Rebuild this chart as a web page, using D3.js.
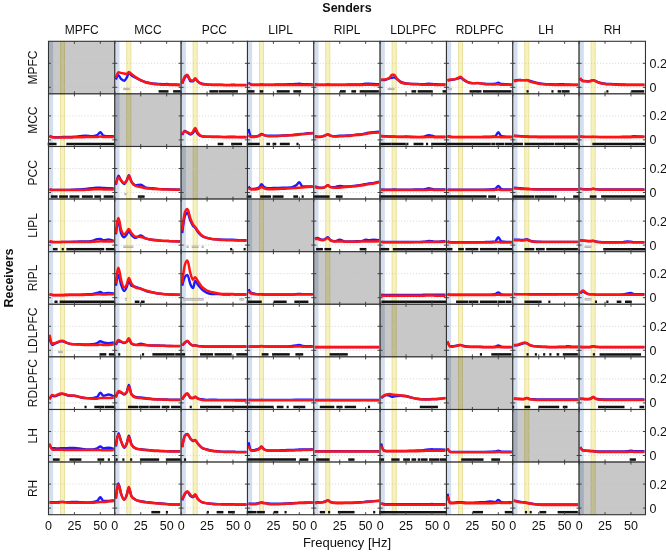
<!DOCTYPE html>
<html>
<head>
<meta charset="utf-8">
<script src="https://cdn.jsdelivr.net/npm/d3@7/dist/d3.min.js"></script>
<style>
  body { margin: 0; background: #fff; }
  text { font-family: "Liberation Sans", Arial, sans-serif; fill: #111; }
</style>
</head>
<body>
<script>
// senders = columns, receivers = rows
var senders = ["MPFC", "MCC", "PCC", "LIPL", "RIPL", "LDLPFC", "RDLPFC", "LH", "RH"];
var receivers = ["MPFC", "MCC", "PCC", "LIPL", "RIPL", "LDLPFC", "RDLPFC", "LH", "RH"];
var freqs = [1, 3.5, 6, 9, 11.5, 13.5, 16, 20, 25, 30, 36, 42, 47, 50, 53, 58, 63];
var xTicks = [0, 25, 50];
var yTicks = [0, 0.2];
var deltaBand = [0.6, 4.5];
var alphaBand = [11.5, 15.5];

// one entry per sender, null on the diagonal
var blue_MPFC = [
  null,
  [0.065,0.10,0.07,0.055,0.08,0.12,0.10,0.08,0.058,0.042,0.032,0.027,0.026,0.027,0.024,0.024,0.022],
  [0.03,0.08,0.095,0.05,0.05,0.07,0.048,0.03,0.024,0.022,0.022,0.02,0.02,0.022,0.02,0.02,0.02],
  [0.04,0.024,0.022,0.022,0.022,0.024,0.022,0.022,0.022,0.024,0.024,0.026,0.028,0.03,0.026,0.025,0.024],
  [0.025,0.022,0.022,0.022,0.022,0.024,0.022,0.022,0.022,0.022,0.024,0.024,0.026,0.03,0.03,0.028,0.025],
  [0.06,0.06,0.065,0.075,0.08,0.083,0.07,0.045,0.032,0.028,0.027,0.025,0.03,0.027,0.025,0.024,0.024],
  [0.055,0.06,0.063,0.068,0.075,0.08,0.065,0.045,0.035,0.035,0.03,0.028,0.03,0.038,0.027,0.025,0.024],
  [0.055,0.06,0.062,0.06,0.06,0.06,0.055,0.045,0.035,0.028,0.025,0.024,0.026,0.024,0.023,0.022,0.022],
  [0.07,0.055,0.052,0.05,0.055,0.06,0.052,0.038,0.03,0.027,0.025,0.023,0.022,0.022,0.022,0.022,0.022]
];
var red_MPFC = [
  null,
  [0.08,0.125,0.12,0.115,0.11,0.128,0.11,0.085,0.06,0.04,0.03,0.025,0.022,0.022,0.02,0.02,0.018],
  [0.035,0.09,0.105,0.06,0.055,0.075,0.05,0.028,0.022,0.02,0.019,0.018,0.018,0.018,0.018,0.017,0.017],
  [0.035,0.022,0.02,0.02,0.02,0.02,0.02,0.02,0.02,0.02,0.02,0.02,0.02,0.02,0.02,0.02,0.02],
  [0.022,0.02,0.02,0.02,0.02,0.02,0.02,0.02,0.02,0.02,0.02,0.02,0.02,0.022,0.022,0.02,0.02],
  [0.064,0.065,0.068,0.08,0.105,0.105,0.075,0.04,0.03,0.028,0.025,0.022,0.022,0.022,0.02,0.02,0.02],
  [0.06,0.065,0.065,0.07,0.08,0.088,0.07,0.045,0.033,0.035,0.028,0.025,0.024,0.025,0.022,0.022,0.02],
  [0.05,0.055,0.058,0.058,0.058,0.06,0.05,0.04,0.03,0.025,0.022,0.02,0.02,0.02,0.02,0.02,0.02],
  [0.08,0.05,0.05,0.048,0.052,0.058,0.05,0.035,0.028,0.025,0.022,0.02,0.02,0.02,0.02,0.02,0.02]
];
var blue_MCC = [
  [0.035,0.025,0.022,0.022,0.022,0.025,0.024,0.024,0.026,0.03,0.035,0.03,0.04,0.065,0.035,0.03,0.03],
  null,
  [0.04,0.075,0.06,0.045,0.06,0.08,0.05,0.03,0.027,0.026,0.026,0.025,0.026,0.027,0.025,0.024,0.024],
  [0.09,0.028,0.028,0.03,0.038,0.05,0.04,0.035,0.035,0.035,0.038,0.04,0.045,0.048,0.05,0.055,0.058],
  [0.03,0.027,0.027,0.032,0.04,0.045,0.035,0.03,0.034,0.036,0.038,0.045,0.048,0.055,0.06,0.065,0.068],
  [0.03,0.03,0.03,0.028,0.028,0.028,0.027,0.027,0.028,0.026,0.025,0.027,0.04,0.035,0.027,0.026,0.026],
  [0.03,0.027,0.025,0.025,0.025,0.025,0.025,0.025,0.025,0.025,0.026,0.027,0.03,0.065,0.03,0.027,0.027],
  [0.035,0.033,0.032,0.03,0.029,0.028,0.027,0.026,0.026,0.026,0.026,0.026,0.027,0.027,0.026,0.026,0.026],
  [0.028,0.026,0.025,0.025,0.025,0.026,0.025,0.025,0.025,0.025,0.025,0.026,0.026,0.027,0.03,0.028,0.027]
];
var red_MCC = [
  [0.03,0.022,0.02,0.02,0.02,0.02,0.02,0.02,0.022,0.022,0.024,0.025,0.025,0.028,0.025,0.025,0.025],
  null,
  [0.045,0.07,0.065,0.052,0.07,0.1,0.06,0.03,0.026,0.025,0.024,0.023,0.023,0.023,0.022,0.022,0.022],
  [0.04,0.025,0.025,0.028,0.035,0.045,0.04,0.03,0.03,0.032,0.035,0.038,0.04,0.045,0.048,0.052,0.055],
  [0.025,0.025,0.025,0.03,0.038,0.048,0.035,0.028,0.03,0.032,0.035,0.04,0.045,0.05,0.055,0.06,0.062],
  [0.035,0.03,0.028,0.026,0.026,0.026,0.025,0.025,0.025,0.023,0.022,0.022,0.024,0.025,0.022,0.022,0.022],
  [0.03,0.025,0.022,0.022,0.022,0.022,0.022,0.022,0.022,0.022,0.022,0.022,0.024,0.025,0.022,0.022,0.022],
  [0.035,0.032,0.03,0.028,0.027,0.026,0.025,0.024,0.023,0.022,0.022,0.022,0.022,0.022,0.022,0.022,0.022],
  [0.028,0.025,0.024,0.024,0.024,0.025,0.024,0.023,0.023,0.023,0.023,0.023,0.023,0.023,0.024,0.024,0.024]
];
var blue_PCC = [
  [0.028,0.022,0.022,0.022,0.022,0.022,0.022,0.022,0.024,0.026,0.03,0.035,0.04,0.04,0.037,0.035,0.034],
  [0.065,0.14,0.1,0.07,0.1,0.145,0.09,0.06,0.065,0.04,0.035,0.03,0.028,0.028,0.026,0.025,0.024],
  null,
  [0.05,0.03,0.03,0.035,0.045,0.07,0.045,0.035,0.038,0.038,0.04,0.042,0.06,0.085,0.05,0.05,0.05],
  [0.05,0.045,0.04,0.04,0.05,0.06,0.045,0.045,0.055,0.05,0.052,0.058,0.065,0.07,0.075,0.08,0.09],
  [0.025,0.024,0.024,0.024,0.024,0.025,0.024,0.024,0.024,0.024,0.025,0.026,0.035,0.03,0.026,0.026,0.026],
  [0.025,0.023,0.023,0.023,0.023,0.024,0.023,0.023,0.023,0.024,0.024,0.025,0.03,0.055,0.028,0.026,0.026],
  [0.04,0.038,0.036,0.034,0.032,0.032,0.03,0.028,0.027,0.027,0.027,0.027,0.027,0.027,0.027,0.027,0.027],
  [0.032,0.028,0.027,0.027,0.028,0.032,0.028,0.026,0.025,0.025,0.025,0.025,0.025,0.026,0.025,0.025,0.025]
];
var red_PCC = [
  [0.025,0.02,0.02,0.02,0.02,0.02,0.02,0.02,0.02,0.02,0.022,0.025,0.028,0.028,0.026,0.025,0.025],
  [0.07,0.125,0.1,0.08,0.1,0.14,0.09,0.055,0.045,0.035,0.03,0.028,0.025,0.025,0.024,0.023,0.022],
  null,
  [0.035,0.025,0.025,0.027,0.035,0.045,0.035,0.028,0.028,0.03,0.032,0.035,0.038,0.04,0.042,0.045,0.048],
  [0.045,0.04,0.038,0.04,0.05,0.06,0.045,0.04,0.04,0.045,0.05,0.055,0.06,0.065,0.07,0.075,0.085],
  [0.02,0.02,0.02,0.02,0.02,0.02,0.02,0.02,0.02,0.02,0.02,0.02,0.022,0.022,0.02,0.02,0.02],
  [0.02,0.02,0.02,0.02,0.02,0.02,0.02,0.02,0.02,0.02,0.02,0.02,0.022,0.024,0.02,0.02,0.02],
  [0.035,0.034,0.032,0.03,0.029,0.028,0.027,0.025,0.024,0.024,0.024,0.024,0.024,0.024,0.024,0.024,0.024],
  [0.03,0.026,0.025,0.025,0.026,0.03,0.026,0.023,0.022,0.022,0.022,0.022,0.022,0.022,0.022,0.022,0.022]
];
var blue_LIPL = [
  [0.03,0.025,0.025,0.025,0.025,0.027,0.027,0.027,0.028,0.03,0.03,0.035,0.05,0.052,0.04,0.048,0.035],
  [0.09,0.2,0.1,0.065,0.09,0.115,0.085,0.06,0.08,0.055,0.045,0.038,0.035,0.035,0.033,0.032,0.03],
  [0.1,0.24,0.27,0.2,0.16,0.145,0.11,0.075,0.06,0.05,0.047,0.045,0.045,0.045,0.042,0.04,0.04],
  null,
  [0.05,0.06,0.05,0.045,0.055,0.065,0.042,0.032,0.045,0.03,0.03,0.032,0.035,0.045,0.04,0.045,0.04],
  [0.027,0.026,0.026,0.026,0.026,0.026,0.026,0.026,0.026,0.026,0.027,0.028,0.035,0.032,0.028,0.03,0.032],
  [0.03,0.025,0.024,0.024,0.024,0.025,0.024,0.024,0.024,0.024,0.025,0.026,0.03,0.065,0.03,0.027,0.027],
  [0.045,0.045,0.045,0.042,0.045,0.05,0.04,0.03,0.028,0.027,0.027,0.027,0.027,0.027,0.027,0.027,0.027],
  [0.04,0.038,0.036,0.034,0.034,0.036,0.03,0.026,0.024,0.024,0.024,0.025,0.03,0.028,0.025,0.025,0.025]
];
var red_LIPL = [
  [0.035,0.028,0.026,0.025,0.025,0.025,0.025,0.025,0.025,0.025,0.025,0.027,0.03,0.032,0.03,0.03,0.03],
  [0.1,0.225,0.13,0.09,0.11,0.135,0.1,0.07,0.068,0.055,0.045,0.04,0.035,0.035,0.033,0.032,0.03],
  [0.12,0.27,0.3,0.22,0.17,0.15,0.12,0.08,0.06,0.05,0.045,0.042,0.04,0.04,0.038,0.038,0.037],
  null,
  [0.05,0.05,0.045,0.04,0.05,0.06,0.04,0.03,0.03,0.028,0.028,0.028,0.03,0.03,0.03,0.03,0.032],
  [0.025,0.024,0.024,0.024,0.024,0.024,0.024,0.024,0.024,0.024,0.024,0.025,0.026,0.026,0.025,0.026,0.027],
  [0.028,0.022,0.022,0.022,0.022,0.022,0.022,0.022,0.022,0.022,0.022,0.022,0.024,0.026,0.022,0.022,0.022],
  [0.04,0.04,0.04,0.038,0.04,0.045,0.035,0.028,0.025,0.025,0.025,0.025,0.025,0.025,0.025,0.025,0.025],
  [0.042,0.036,0.035,0.033,0.033,0.035,0.028,0.024,0.022,0.022,0.022,0.022,0.023,0.023,0.022,0.022,0.022]
];
var blue_RIPL = [
  [0.03,0.024,0.022,0.022,0.022,0.022,0.024,0.024,0.024,0.026,0.028,0.03,0.04,0.048,0.035,0.04,0.035],
  [0.1,0.19,0.11,0.055,0.09,0.14,0.1,0.09,0.075,0.055,0.045,0.035,0.03,0.028,0.027,0.026,0.025],
  [0.1,0.17,0.19,0.11,0.08,0.14,0.11,0.07,0.04,0.03,0.03,0.027,0.027,0.028,0.026,0.026,0.026],
  [0.07,0.04,0.035,0.03,0.03,0.03,0.028,0.028,0.028,0.028,0.028,0.028,0.03,0.032,0.03,0.03,0.03],
  null,
  [0.024,0.023,0.023,0.023,0.023,0.023,0.023,0.023,0.023,0.023,0.023,0.024,0.025,0.025,0.024,0.024,0.024],
  [0.03,0.025,0.024,0.024,0.024,0.025,0.024,0.024,0.024,0.024,0.025,0.026,0.03,0.044,0.028,0.026,0.026],
  [0.032,0.03,0.03,0.03,0.03,0.03,0.029,0.029,0.029,0.029,0.029,0.029,0.03,0.03,0.03,0.03,0.03],
  [0.035,0.052,0.04,0.03,0.028,0.028,0.026,0.026,0.026,0.026,0.026,0.028,0.035,0.04,0.03,0.03,0.03]
];
var red_RIPL = [
  [0.03,0.022,0.02,0.02,0.02,0.02,0.02,0.022,0.022,0.022,0.024,0.025,0.028,0.028,0.027,0.028,0.028],
  [0.12,0.25,0.15,0.085,0.11,0.165,0.12,0.085,0.075,0.06,0.045,0.035,0.03,0.028,0.027,0.026,0.025],
  [0.12,0.27,0.31,0.2,0.15,0.17,0.14,0.09,0.06,0.045,0.035,0.03,0.03,0.03,0.028,0.028,0.028],
  [0.05,0.035,0.03,0.028,0.026,0.026,0.025,0.025,0.025,0.025,0.025,0.025,0.026,0.026,0.026,0.026,0.026],
  null,
  [0.018,0.017,0.017,0.017,0.017,0.017,0.017,0.017,0.017,0.017,0.017,0.017,0.018,0.018,0.017,0.017,0.017],
  [0.03,0.022,0.022,0.022,0.022,0.022,0.022,0.022,0.022,0.022,0.022,0.022,0.023,0.025,0.022,0.022,0.022],
  [0.03,0.028,0.028,0.028,0.028,0.028,0.027,0.027,0.027,0.027,0.027,0.027,0.027,0.027,0.027,0.027,0.027],
  [0.04,0.06,0.045,0.03,0.028,0.028,0.025,0.024,0.024,0.024,0.024,0.024,0.025,0.025,0.025,0.024,0.024]
];
var blue_LDLPFC = [
  [0.1,0.045,0.055,0.065,0.075,0.075,0.068,0.055,0.05,0.05,0.048,0.05,0.06,0.075,0.065,0.06,0.065],
  [0.045,0.075,0.07,0.06,0.07,0.09,0.055,0.045,0.055,0.045,0.04,0.04,0.038,0.037,0.036,0.035,0.035],
  [0.04,0.06,0.075,0.05,0.04,0.042,0.037,0.034,0.032,0.032,0.032,0.033,0.033,0.033,0.032,0.032,0.032],
  [0.034,0.032,0.032,0.032,0.033,0.036,0.033,0.032,0.032,0.033,0.033,0.035,0.04,0.045,0.036,0.034,0.034],
  [0.028,0.027,0.027,0.027,0.027,0.028,0.027,0.027,0.027,0.027,0.027,0.027,0.028,0.028,0.027,0.027,0.027],
  null,
  [0.075,0.035,0.035,0.038,0.042,0.045,0.038,0.032,0.03,0.03,0.028,0.028,0.03,0.04,0.03,0.028,0.028],
  [0.04,0.042,0.045,0.055,0.06,0.058,0.045,0.035,0.032,0.03,0.028,0.028,0.03,0.03,0.035,0.03,0.03],
  [0.03,0.028,0.028,0.028,0.03,0.034,0.03,0.028,0.027,0.027,0.027,0.027,0.028,0.028,0.028,0.028,0.028]
];
var red_LDLPFC = [
  [0.13,0.055,0.06,0.07,0.078,0.08,0.07,0.055,0.05,0.048,0.045,0.045,0.045,0.048,0.045,0.045,0.05],
  [0.05,0.085,0.075,0.065,0.075,0.1,0.06,0.045,0.045,0.042,0.04,0.038,0.037,0.036,0.035,0.035,0.035],
  [0.04,0.065,0.08,0.05,0.038,0.04,0.035,0.032,0.03,0.03,0.03,0.03,0.03,0.03,0.03,0.03,0.03],
  [0.03,0.03,0.03,0.03,0.031,0.033,0.031,0.03,0.03,0.03,0.03,0.03,0.031,0.032,0.03,0.03,0.03],
  [0.025,0.025,0.025,0.025,0.025,0.026,0.025,0.025,0.025,0.025,0.025,0.025,0.025,0.025,0.025,0.025,0.025],
  null,
  [0.07,0.03,0.03,0.035,0.04,0.045,0.035,0.03,0.028,0.027,0.026,0.025,0.026,0.028,0.025,0.025,0.025],
  [0.045,0.045,0.05,0.06,0.065,0.06,0.045,0.035,0.03,0.028,0.026,0.025,0.025,0.025,0.027,0.025,0.025],
  [0.028,0.026,0.026,0.026,0.028,0.032,0.028,0.025,0.025,0.025,0.025,0.025,0.025,0.025,0.025,0.025,0.025]
];
var blue_RDLPFC = [
  [0.03,0.06,0.055,0.065,0.072,0.075,0.07,0.06,0.06,0.048,0.04,0.04,0.05,0.085,0.06,0.07,0.055],
  [0.045,0.09,0.085,0.07,0.09,0.15,0.075,0.05,0.045,0.04,0.032,0.03,0.028,0.028,0.027,0.026,0.026],
  [0.03,0.06,0.075,0.04,0.04,0.052,0.038,0.03,0.025,0.027,0.025,0.025,0.025,0.025,0.024,0.024,0.024],
  [0.026,0.025,0.025,0.025,0.025,0.026,0.025,0.025,0.025,0.025,0.025,0.025,0.026,0.027,0.026,0.026,0.026],
  [0.025,0.024,0.024,0.024,0.024,0.025,0.024,0.024,0.024,0.024,0.024,0.024,0.025,0.025,0.024,0.024,0.024],
  [0.04,0.055,0.065,0.06,0.05,0.055,0.058,0.06,0.055,0.045,0.035,0.03,0.03,0.032,0.032,0.036,0.04],
  null,
  [0.038,0.036,0.034,0.033,0.035,0.042,0.034,0.03,0.028,0.028,0.028,0.028,0.028,0.028,0.028,0.028,0.028],
  [0.038,0.035,0.033,0.033,0.038,0.05,0.036,0.03,0.028,0.028,0.028,0.028,0.028,0.028,0.028,0.028,0.028]
];
var red_RDLPFC = [
  [0.03,0.065,0.06,0.07,0.078,0.078,0.072,0.062,0.06,0.05,0.04,0.035,0.035,0.04,0.04,0.04,0.045],
  [0.05,0.1,0.09,0.075,0.09,0.135,0.07,0.045,0.04,0.035,0.03,0.028,0.027,0.026,0.025,0.025,0.025],
  [0.03,0.065,0.08,0.045,0.04,0.05,0.035,0.025,0.022,0.022,0.022,0.022,0.022,0.022,0.02,0.02,0.02],
  [0.023,0.022,0.022,0.022,0.022,0.022,0.022,0.022,0.022,0.022,0.022,0.022,0.022,0.023,0.022,0.022,0.022],
  [0.022,0.022,0.022,0.022,0.022,0.022,0.022,0.022,0.022,0.022,0.022,0.022,0.022,0.022,0.022,0.022,0.022],
  [0.045,0.06,0.07,0.075,0.07,0.068,0.065,0.062,0.058,0.045,0.032,0.028,0.028,0.03,0.03,0.035,0.04],
  null,
  [0.035,0.033,0.031,0.03,0.032,0.04,0.031,0.027,0.025,0.025,0.025,0.025,0.025,0.025,0.025,0.025,0.025],
  [0.035,0.032,0.03,0.03,0.036,0.05,0.033,0.026,0.025,0.025,0.025,0.025,0.025,0.025,0.025,0.025,0.025]
];
var blue_LH = [
  [0.09,0.06,0.06,0.058,0.06,0.06,0.06,0.062,0.062,0.058,0.05,0.05,0.06,0.075,0.06,0.065,0.055],
  [0.075,0.185,0.12,0.065,0.1,0.165,0.095,0.06,0.052,0.047,0.042,0.04,0.037,0.036,0.035,0.035,0.035],
  [0.07,0.165,0.18,0.14,0.12,0.13,0.1,0.065,0.05,0.04,0.035,0.032,0.032,0.032,0.03,0.03,0.03],
  [0.11,0.045,0.045,0.05,0.06,0.075,0.052,0.042,0.042,0.043,0.045,0.046,0.048,0.05,0.05,0.05,0.052],
  [0.036,0.035,0.035,0.035,0.035,0.036,0.035,0.035,0.035,0.035,0.035,0.035,0.036,0.036,0.035,0.035,0.035],
  [0.1,0.042,0.038,0.038,0.038,0.038,0.038,0.038,0.038,0.04,0.042,0.045,0.05,0.052,0.05,0.05,0.048],
  [0.058,0.032,0.03,0.03,0.03,0.03,0.03,0.03,0.03,0.03,0.03,0.031,0.033,0.04,0.032,0.031,0.031],
  null,
  [0.07,0.045,0.042,0.04,0.038,0.037,0.035,0.033,0.033,0.033,0.033,0.034,0.036,0.04,0.035,0.035,0.035]
];
var red_LH = [
  [0.1,0.05,0.048,0.048,0.048,0.048,0.045,0.045,0.045,0.045,0.045,0.045,0.045,0.045,0.043,0.043,0.045],
  [0.08,0.175,0.12,0.07,0.1,0.155,0.09,0.06,0.05,0.045,0.04,0.037,0.035,0.035,0.034,0.033,0.033],
  [0.07,0.16,0.175,0.14,0.125,0.125,0.1,0.065,0.048,0.038,0.033,0.03,0.03,0.03,0.028,0.028,0.028],
  [0.08,0.04,0.04,0.045,0.055,0.07,0.05,0.04,0.04,0.04,0.04,0.042,0.043,0.044,0.045,0.046,0.047],
  [0.033,0.033,0.033,0.033,0.033,0.033,0.033,0.033,0.033,0.033,0.033,0.033,0.033,0.033,0.033,0.033,0.033],
  [0.08,0.04,0.036,0.036,0.036,0.036,0.036,0.036,0.036,0.036,0.036,0.038,0.04,0.04,0.04,0.04,0.04],
  [0.06,0.03,0.028,0.028,0.028,0.028,0.028,0.028,0.028,0.028,0.028,0.028,0.028,0.03,0.028,0.028,0.028],
  null,
  [0.07,0.042,0.04,0.037,0.035,0.034,0.032,0.03,0.03,0.03,0.03,0.03,0.03,0.031,0.03,0.03,0.03]
];
var blue_RH = [
  [0.05,0.05,0.05,0.05,0.052,0.052,0.05,0.05,0.052,0.05,0.048,0.05,0.06,0.09,0.06,0.06,0.065],
  [0.08,0.205,0.12,0.07,0.11,0.17,0.1,0.07,0.057,0.05,0.045,0.04,0.037,0.035,0.032,0.03,0.03],
  [0.065,0.115,0.135,0.1,0.09,0.11,0.075,0.05,0.04,0.036,0.033,0.032,0.032,0.032,0.03,0.03,0.03],
  [0.038,0.036,0.036,0.038,0.043,0.048,0.043,0.038,0.036,0.036,0.038,0.04,0.043,0.045,0.045,0.047,0.048],
  [0.045,0.05,0.048,0.05,0.058,0.065,0.052,0.045,0.045,0.046,0.046,0.048,0.05,0.053,0.055,0.058,0.062],
  [0.038,0.034,0.033,0.032,0.032,0.032,0.032,0.032,0.032,0.032,0.032,0.032,0.033,0.034,0.033,0.033,0.033],
  [0.12,0.045,0.045,0.047,0.05,0.05,0.048,0.045,0.045,0.048,0.05,0.055,0.05,0.068,0.05,0.048,0.05],
  [0.065,0.058,0.053,0.05,0.047,0.045,0.04,0.035,0.03,0.03,0.03,0.03,0.03,0.03,0.03,0.03,0.03],
  null
];
var red_RH = [
  [0.045,0.045,0.045,0.045,0.048,0.05,0.048,0.045,0.045,0.045,0.045,0.045,0.048,0.05,0.05,0.055,0.06],
  [0.08,0.195,0.12,0.07,0.11,0.175,0.1,0.07,0.055,0.048,0.042,0.038,0.035,0.033,0.03,0.03,0.028],
  [0.07,0.12,0.14,0.11,0.095,0.115,0.08,0.05,0.04,0.035,0.032,0.03,0.03,0.03,0.028,0.028,0.028],
  [0.035,0.033,0.033,0.035,0.04,0.045,0.04,0.035,0.033,0.033,0.035,0.037,0.04,0.042,0.042,0.044,0.045],
  [0.04,0.045,0.045,0.048,0.055,0.065,0.05,0.042,0.04,0.042,0.042,0.045,0.048,0.05,0.052,0.056,0.06],
  [0.04,0.03,0.028,0.028,0.028,0.028,0.028,0.028,0.028,0.028,0.028,0.028,0.028,0.028,0.028,0.028,0.028],
  [0.1,0.04,0.04,0.042,0.045,0.045,0.042,0.04,0.04,0.04,0.04,0.04,0.042,0.045,0.042,0.042,0.045],
  [0.06,0.055,0.05,0.048,0.045,0.042,0.038,0.033,0.028,0.025,0.025,0.025,0.025,0.025,0.025,0.025,0.025],
  null
];

// significant frequency ranges [from, to] in Hz, black marks
var sig_MPFC = [[], [[43,51],[57,63]], [[28,35],[37,54]], [[0,6],[12.5,14.5],[29,40],[45,51]],
  [[26,30],[37,40],[45,58],[59,62]], [[31,34],[37,50],[61,63.5]], [[23,30],[31,33],[36,62]],
  [[14,14.5],[38,38.5],[44,46],[48,54]], [[27,27.5],[51,62]]];
var sig_MCC = [[[0,7],[18,39],[40,63]], [], [[36,40],[49,58]], [[0,11],[19,21],[25,27],[32,40],[48,48.5]],
  [], [[0,10],[11.5,24],[26,26.5],[33,41],[45,45.5],[50,63]], [[0,42],[44,46],[48,55],[57,63]],
  [[1,9],[12,30],[31,39],[41,62]], [[13.5,55],[56,63]]];
var sig_PCC = [[[3,8],[11,18],[21,29],[33,42],[45,50],[54,62]], [[23,28]], [],
  [[0,3],[13,22],[25,34],[45,48],[53,53.5]], [[0,14.5],[22,27]], [[0,63]], [[0,38],[41,47]],
  [[1,20],[22,39],[41,41.5],[59,63]], [[11,16],[22,63]]];
var sig_LIPL = [[[5,8],[13.5,14],[18,25],[26,53],[56,63]], [], [[48,48.5],[61,61.5]], [],
  [[3,8],[11,16],[45,50]], [[0,8],[13,63]], [[1,5],[12,16],[19,30],[33,48],[50,63]],
  [[12,20],[23,30],[33,62]], [[24,63]]];
var sig_RIPL = [[[6.5,8],[11.5,63]], [[20,23],[26,28]], [], [[0,13],[26,37],[46,58]], [],
  [[2,63]], [[10,20],[22,30],[33,48],[50,56],[58,62]], [[12,27],[35,35.5]],
  [[16,16.5],[27,27.5],[37,40],[45,50]]];
var sig_LDLPFC = [[[50,55],[59,63]], [[4,4.5],[27,27.5],[37,57],[59,63]], [[0,3],[19,30],[33,48],[54,63.5]],
  [[14.5,19.5],[24.5,40],[47,53]], [[16,32]], [], [[33,33.5],[44,62]],
  [[14,14.5],[22,22.5],[30,30.5],[36,36.5],[43,44],[49,62]], [[14,14.5],[20.5,59]]];
var sig_RDLPFC = [[[35.5,36],[45,53],[55,63]], [[13.5,22],[24,32],[34,43],[46,52],[55,63]],
  [[9,9.5],[19,38],[41.5,42],[43,63.5]], [[0,24.5],[29,34],[38.5,39],[45,55]],
  [[6.5,19],[22.5,27],[30.5,40],[53,53.5]], [[39,55]], [], [[0,0.5],[12,16],[25.5,44],[49,52]],
  [[19,43],[59,62]]];
var sig_LH = [[[5,10],[21,31],[48,53],[58,58.5]], [[1.5,2],[8,8.5],[15.5,16],[25,42],[50,63]], [[3.5,4]],
  [[0,46],[51,58]], [[3,14.5],[34,38.5]], [[0,3],[11.5,18],[23,28],[31,34],[37,38],[40,45],[48,56],[58,63]],
  [[15,35],[44,51]], [], [[49.5,54]]];
var sig_RH = [[], [[36,43],[50,50.5]], [[25.5,26],[35,40],[46,51]], [[0,8],[10,16],[26,29],[36.5,37]],
  [[6.5,10],[14.5,15],[24,38.5],[58,58.5]], [[0,63]], [[26,34.5],[57,63]],
  [[12.5,13],[17,17.5],[26.5,31.5],[44,62]], []];

// gray marks (the other contrast), [receiver, sender, from, to]
var sigGray = [
  ["MPFC","MCC",9,13.5], ["MPFC","LDLPFC",8,13], ["MPFC","RDLPFC",2,4.5],
  ["PCC","MCC",10,10.5],
  ["LIPL","MCC",9,17], ["LIPL","PCC",6,6.5], ["LIPL","PCC",11,16], ["LIPL","PCC",20.5,21], ["LIPL","RH",6,11],
  ["RIPL","MCC",10.5,11], ["RIPL","PCC",2.5,11], ["RIPL","PCC",12,21], ["RIPL","PCC",57,60], ["RIPL","RH",6,11],
  ["LDLPFC","MPFC",10,13]
];

var blueRows = [blue_MPFC, blue_MCC, blue_PCC, blue_LIPL, blue_RIPL, blue_LDLPFC, blue_RDLPFC, blue_LH, blue_RH];
var redRows = [red_MPFC, red_MCC, red_PCC, red_LIPL, red_RIPL, red_LDLPFC, red_RDLPFC, red_LH, red_RH];
var sigRows = [sig_MPFC, sig_MCC, sig_PCC, sig_LIPL, sig_RIPL, sig_LDLPFC, sig_RDLPFC, sig_LH, sig_RH];

var gridLeft = 48.5, gridTop = 41.3, cw = 66.33, ch = 52.6;

var svg = d3.select("body").append("svg").attr("width", 666).attr("height", 552);

var x = d3.scaleLinear().domain([0, 64]).range([0, cw]);
var y = d3.scaleLinear().domain([-0.055, 0.3833]).range([ch, 0]);
var line = d3.line().x(function(d, i) { return x(freqs[i]); }).y(function(d) { return y(d); })
    .curve(d3.curveMonotoneX);

function markLine(g, a, b, yv, color, w) {
    g.append("line")
        .attr("x1", x(a) - 0.8).attr("x2", x(b) + 0.8)
        .attr("y1", y(yv)).attr("y2", y(yv))
        .attr("stroke", color).attr("stroke-width", w);
}

receivers.forEach(function(rec, r) {
    senders.forEach(function(snd, c) {
        var g = svg.append("g")
            .attr("transform", "translate(" + (gridLeft + c * cw) + "," + (gridTop + r * ch) + ")");
        var diag = r === c;
        g.append("rect").attr("width", cw).attr("height", ch)
            .attr("fill", diag ? "#c8c8c8" : "#fff");

        g.append("rect").attr("x", x(deltaBand[0])).attr("width", x(deltaBand[1]) - x(deltaBand[0]))
            .attr("height", ch).attr("fill", "#d3deef").style("mix-blend-mode", "multiply");
        g.append("rect").attr("x", x(alphaBand[0])).attr("width", x(alphaBand[1]) - x(alphaBand[0]))
            .attr("height", ch).attr("fill", "#f7f2bc").attr("stroke", "#e6dc94").attr("stroke-width", 0.8)
            .style("mix-blend-mode", "multiply");

        yTicks.forEach(function(t) {
            g.append("line").attr("x1", 0).attr("x2", cw).attr("y1", y(t)).attr("y2", y(t))
                .attr("stroke", "#c4c4c4").attr("stroke-width", 0.7).attr("stroke-dasharray", "1,2");
        });

        if (!diag) {
            sigRows[r][c].forEach(function(s) { markLine(g, s[0], s[1], -0.034, "#111", 2.5); });
            sigGray.filter(function(s) { return s[0] === rec && s[1] === snd; }).forEach(function(s) {
                markLine(g, s[2], s[3], -0.014, "#9a9a9a", 2.2);
                markLine(g, s[2], s[3], -0.014, "#e6e6e6", 0.8);
            });
            g.append("path").attr("d", line(blueRows[r][c])).attr("fill", "none")
                .attr("stroke", "#1a1aff").attr("stroke-width", 2.4).attr("stroke-linejoin", "round");
            g.append("path").attr("d", line(redRows[r][c])).attr("fill", "none")
                .attr("stroke", "#ff1414").attr("stroke-width", 2.5).attr("stroke-linejoin", "round");
        }

        xTicks.forEach(function(t) {
            g.append("line").attr("x1", x(t)).attr("x2", x(t)).attr("y1", 0).attr("y2", 2.5).attr("stroke", "#444");
            g.append("line").attr("x1", x(t)).attr("x2", x(t)).attr("y1", ch).attr("y2", ch - 2.5).attr("stroke", "#444");
        });
        yTicks.forEach(function(t) {
            g.append("line").attr("x1", 0).attr("x2", 2.5).attr("y1", y(t)).attr("y2", y(t)).attr("stroke", "#444");
            g.append("line").attr("x1", cw).attr("x2", cw - 2.5).attr("y1", y(t)).attr("y2", y(t)).attr("stroke", "#444");
        });

        g.append("rect").attr("width", cw).attr("height", ch)
            .attr("fill", "none").attr("stroke", "#333").attr("stroke-width", 1.1);
    });

    // right-hand value labels
    yTicks.forEach(function(t) {
        svg.append("text").attr("x", gridLeft + 9 * cw + 4).attr("y", gridTop + r * ch + y(t)).attr("dy", "0.36em")
            .attr("font-size", 12.5).text(t === 0 ? "0" : "0.2");
    });

    svg.append("text")
        .attr("transform", "translate(37," + (gridTop + (r + 0.5) * ch) + ") rotate(-90)")
        .attr("text-anchor", "middle").attr("font-size", 12).text(rec);
});

senders.forEach(function(snd, c) {
    svg.append("text").attr("x", gridLeft + (c + 0.5) * cw).attr("y", 34)
        .attr("text-anchor", "middle").attr("font-size", 12).text(snd);
    xTicks.forEach(function(t) {
        svg.append("text").attr("x", gridLeft + c * cw + x(t)).attr("y", gridTop + 9 * ch + 15)
            .attr("text-anchor", "middle").attr("font-size", 12.5).text(t);
    });
});

svg.append("text").attr("x", gridLeft + 4.5 * cw).attr("y", 12).attr("text-anchor", "middle")
    .attr("font-size", 12.5).attr("font-weight", "bold").text("Senders");
svg.append("text").attr("transform", "translate(13," + (gridTop + 4.5 * ch) + ") rotate(-90)")
    .attr("text-anchor", "middle").attr("font-size", 12.5).attr("font-weight", "bold").text("Receivers");
svg.append("text").attr("x", gridLeft + 4.5 * cw).attr("y", 547).attr("text-anchor", "middle")
    .attr("font-size", 13).text("Frequency [Hz]");
</script>
</body>
</html>
